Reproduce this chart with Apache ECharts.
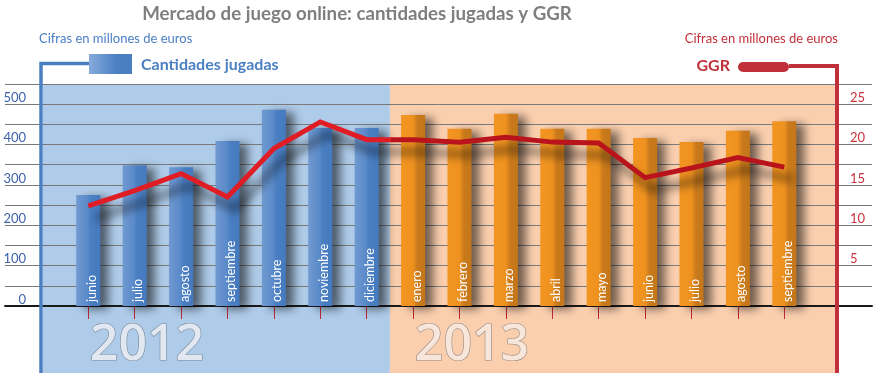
<!DOCTYPE html>
<html>
<head>
<meta charset="utf-8">
<script src="https://cdn.jsdelivr.net/npm/echarts@6/dist/echarts.min.js"></script>
<style>
html,body{margin:0;padding:0;background:#fff;}
#chart{width:880px;height:384px;}
</style>
</head>
<body>
<div id="chart"></div>
<script>
const categories = ['junio','julio','agosto','septiembre','octubre','noviembre','diciembre','enero','febrero','marzo','abril','mayo','junio','julio','agosto','septiembre'];
const yearOfMonth = ['2012','2012','2012','2012','2012','2012','2012','2013','2013','2013','2013','2013','2013','2013','2013','2013'];
const cantidadesJugadas = [275,349,344,409,486,441,441,473,439,476,439,439,416,406,434,458];
const ggr = [12.4,14.3,16.4,13.5,19.5,22.8,20.6,20.6,20.3,20.9,20.3,20.2,15.9,17.1,18.4,17.2];
const leftTicks = [0,100,200,300,400,500];
const rightTicks = [5,10,15,20,25];
const years = ['2012','2013'];

const FONT = 'Lato';
const chart = echarts.init(document.getElementById('chart'));

const blueBar = new echarts.graphic.LinearGradient(0,0,1,0,[
  {offset:0,color:'#7099d0'},{offset:0.45,color:'#5b8bca'},{offset:0.6,color:'#4a7fc2'},{offset:1,color:'#4679be'}]);
const orangeBar = new echarts.graphic.LinearGradient(0,0,1,0,[
  {offset:0,color:'#f29520'},{offset:0.5,color:'#ee911f'},{offset:0.68,color:'#c97a1b'},{offset:1,color:'#c47619'}]);

const barData = cantidadesJugadas.map((v,i)=>({
  value:v,
  itemStyle:{color: yearOfMonth[i]==='2012'?blueBar:orangeBar}
}));

const gLeft = 65.1, gRight = 72.5, gTop = 84, gBottom = 78;

const option = {
  animation:false,
  grid:[
    {left:gLeft,right:gRight,top:gTop,bottom:gBottom},
    {left:5,right:8,top:gTop,bottom:gBottom}
  ],
  xAxis:[
    {type:'category',gridIndex:0,data:categories,boundaryGap:true,
     axisLine:{show:false},
     axisTick:{show:true,interval:0,alignWithLabel:true,length:13,lineStyle:{color:'#c0283a',width:1}},
     axisLabel:{show:false,interval:0},splitLine:{show:false}},
    {type:'value',gridIndex:1,min:0,max:1,
     axisLine:{show:true,onZero:false,lineStyle:{color:'#1a1a1a',width:2}},
     axisTick:{show:false},axisLabel:{show:false},splitLine:{show:false}}
  ],
  yAxis:[
    {type:'value',gridIndex:0,position:'left',min:0,max:550,interval:50,
     axisLine:{show:false},axisTick:{show:false},splitLine:{show:false},
     axisLabel:{margin:39,color:'#3d62aa',fontSize:13,fontFamily:FONT,verticalAlign:'bottom',
       formatter:v=>leftTicks.includes(v)?String(v):''}},
    {type:'value',gridIndex:0,position:'right',min:0,max:27.5,interval:2.5,
     axisLine:{show:false},axisTick:{show:false},splitLine:{show:false},
     axisLabel:{margin:42.5,color:'#c8323c',fontSize:13,fontFamily:FONT,verticalAlign:'bottom',
       formatter:v=>rightTicks.includes(v)?String(v):''}},
    {type:'value',gridIndex:1,min:0,max:550,interval:50,
     axisLine:{show:false},axisTick:{show:false},axisLabel:{show:false},
     splitLine:{show:true,lineStyle:{color:'#7a7a7a',width:1}}}
  ],
  series:[
    {type:'bar',xAxisIndex:0,yAxisIndex:0,data:barData,barWidth:24,z:3,
     itemStyle:{shadowBlur:10,shadowColor:'rgba(0,0,0,0.55)',shadowOffsetX:8,shadowOffsetY:3},
     label:{show:true,position:'insideBottom',rotate:90,align:'left',verticalAlign:'middle',
       distance:4,offset:[0,3.5],color:'#fff',fontSize:12.5,fontFamily:FONT,formatter:'{b}'}},
    {type:'line',xAxisIndex:0,yAxisIndex:1,data:ggr,symbol:'none',z:5,
     lineStyle:{width:5,
       color:new echarts.graphic.LinearGradient(0,0,1,0,[
         {offset:0,color:'#e01c24'},{offset:0.435,color:'#e01c24'},{offset:0.435,color:'#b9141c'},{offset:1,color:'#b9141c'}]),
       shadowBlur:10,shadowColor:'rgba(0,0,0,0.6)',shadowOffsetX:8,shadowOffsetY:12,join:'miter'}}
  ]
};
chart.setOption(option);

const lastIdx2012 = yearOfMonth.lastIndexOf('2012');
const xA = chart.convertToPixel({xAxisIndex:0}, lastIdx2012);
const xB = chart.convertToPixel({xAxisIndex:0}, lastIdx2012+1);
const boundary = (xA+xB)/2;
const bgLeft = 43, bgRight = 835, bgTop = 84, bgBottom = 373;

const yearText = (txt, cx, fill) => ({
  type:'text', z:-5, x:cx, y:346,
  style:{text:txt, font:'600 50px "Open Sans"', fill:fill, align:'center', verticalAlign:'middle',
    stroke:'rgba(100,105,115,0.7)', lineWidth:1.2,
    shadowColor:'rgba(50,50,60,0.6)', shadowBlur:2, shadowOffsetX:-1.5, shadowOffsetY:2}
});

chart.setOption({
  graphic:[
    {type:'rect',z:-10,shape:{x:bgLeft,y:bgTop,width:boundary-bgLeft,height:bgBottom-bgTop},style:{fill:'#aecbe9'}},
    {type:'rect',z:-10,shape:{x:boundary,y:bgTop,width:bgRight-boundary,height:bgBottom-bgTop},style:{fill:'#fbcfae'}},
    yearText(years[0], 147, '#e1e8f1'),
    yearText(years[1], 472, '#f8e6da'),
    {type:'polyline',z:10,shape:{points:[[90,63.5],[41,63.5],[41,373]]},style:{stroke:'#4a7fc2',lineWidth:3.5,fill:null}},
    {type:'rect',z:10,shape:{x:89,y:54,width:43,height:20},
     style:{fill:new echarts.graphic.LinearGradient(0,0,1,0,[{offset:0,color:'#86abdc'},{offset:0.65,color:'#4a7fc2'},{offset:1,color:'#4a7fc2'}])}},
    {type:'polyline',z:10,shape:{points:[[789,66],[837,66],[837,373]]},style:{stroke:'#c0303a',lineWidth:4,fill:null}},
    {type:'rect',z:10,shape:{x:738,y:62,width:51,height:10,r:5},style:{fill:'#c0303a'}},
    {type:'text',x:357,y:14,style:{text:'Mercado de juego online: cantidades jugadas y GGR',font:'bold 18.7px '+FONT,fill:'#7f7f7f',align:'center',verticalAlign:'middle'}},
    {type:'text',x:39,y:38.5,style:{text:'Cifras en millones de euros',font:'13px '+FONT,fill:'#4a7fc2',align:'left',verticalAlign:'middle'}},
    {type:'text',x:838,y:38.5,style:{text:'Cifras en millones de euros',font:'13px '+FONT,fill:'#c0303a',align:'right',verticalAlign:'middle'}},
    {type:'text',x:141,y:65,style:{text:'Cantidades jugadas',font:'bold 16px '+FONT,fill:'#4a7fc2',align:'left',verticalAlign:'middle'}},
    {type:'text',x:730,y:66,style:{text:'GGR',font:'bold 16px '+FONT,fill:'#c0303a',align:'right',verticalAlign:'middle'}}
  ]
});
</script>
</body>
</html>
